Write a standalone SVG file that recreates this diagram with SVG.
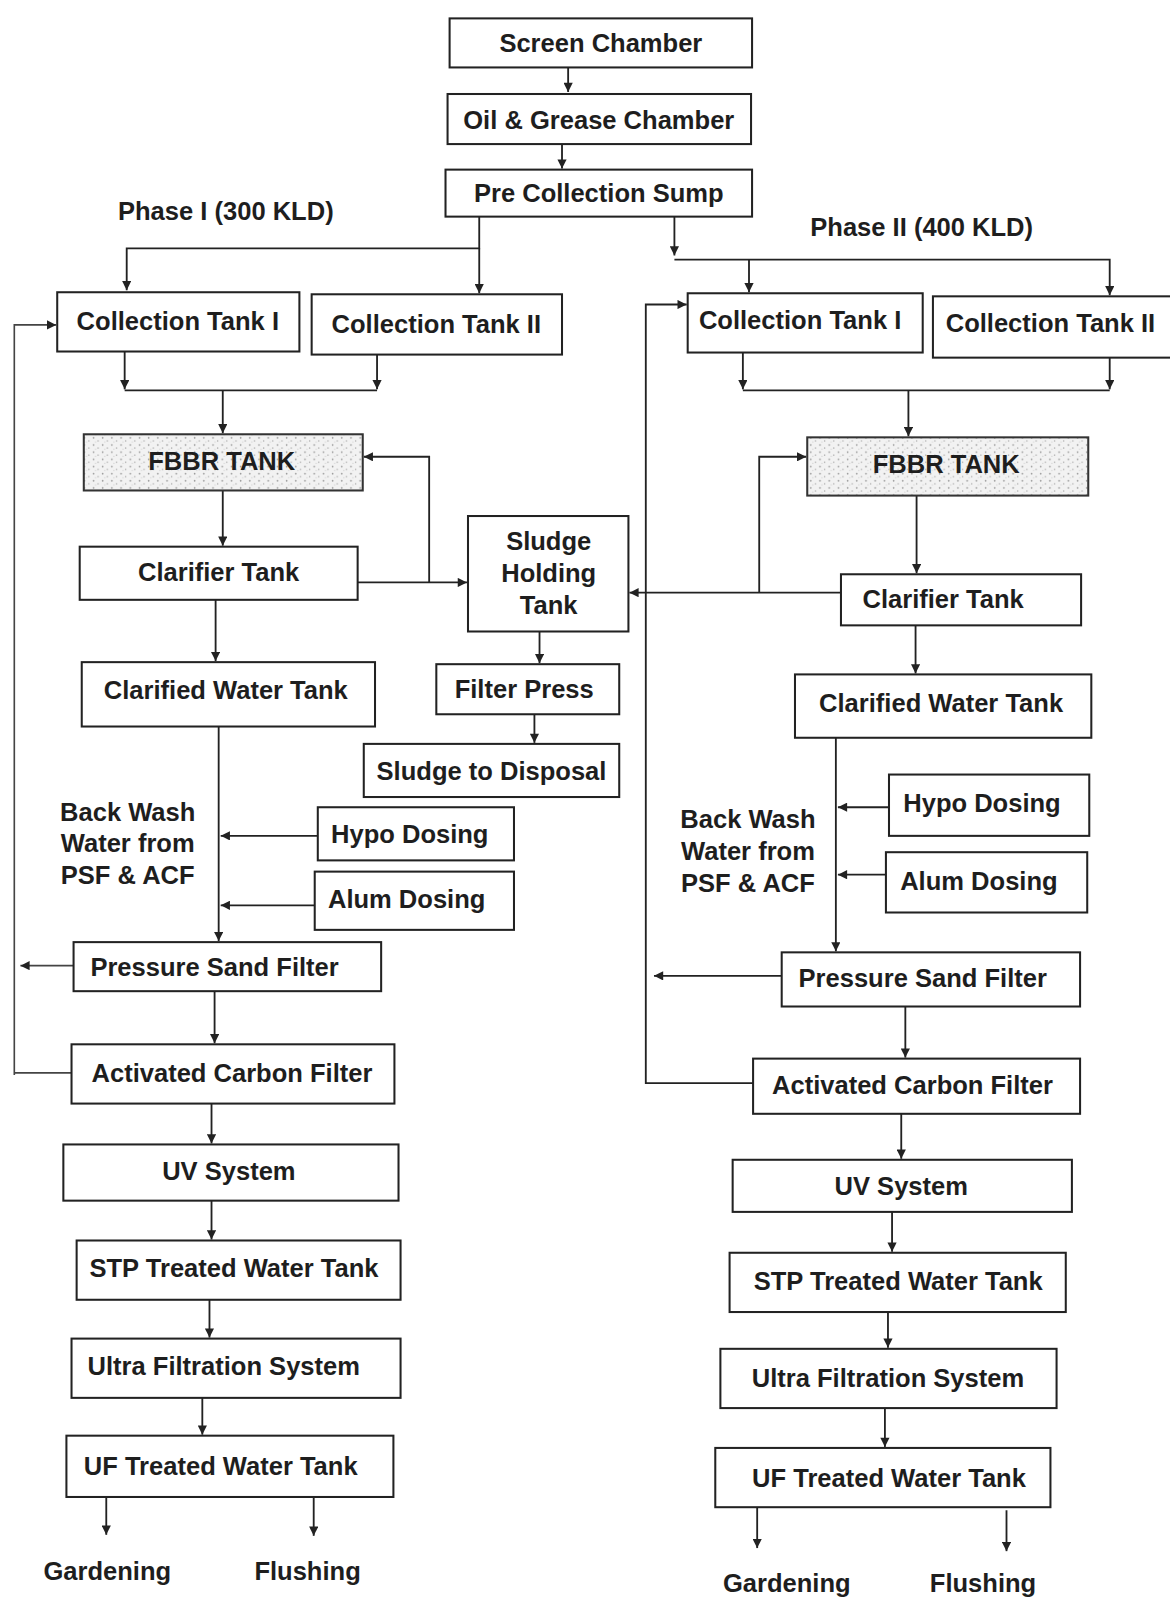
<svg xmlns="http://www.w3.org/2000/svg" width="1170" height="1602" viewBox="0 0 1170 1602">
<defs>
<style>
.box{fill:#fff;stroke:#222;stroke-width:2}
.fbbr{fill:url(#stip);stroke:#333;stroke-width:2}
.t{font-family:"Liberation Sans",Arial,sans-serif;font-weight:bold;font-size:25px;fill:#1e1e1e;text-anchor:middle}
.c{fill:none;stroke:#222;stroke-width:1.8}
.bw{fill:none;stroke:#444;stroke-width:1.6}
.a{marker-end:url(#ah)}
</style>
<marker id="ah" viewBox="0 0 10 10" refX="10" refY="5" markerWidth="10" markerHeight="9" markerUnits="userSpaceOnUse" orient="auto">
<path d="M0,0 L10,5 L0,10 z" fill="#222"/>
</marker>
<pattern id="stip" width="9" height="7" patternUnits="userSpaceOnUse">
<rect width="9" height="7" fill="#f2f2f2"/>
<circle cx="1.5" cy="1.5" r="0.8" fill="#9a9a9a"/>
<circle cx="6" cy="4.5" r="0.7" fill="#b0b0b0"/>
<circle cx="3.5" cy="5.5" r="0.5" fill="#c0c0c0"/>
</pattern>
</defs>
<rect width="1170" height="1602" fill="#fff"/>
<g transform="scale(1.02183)">
<g id="connectors">
<path class="c a" d="M556,66 V90"/>
<path class="c a" d="M550,141 V165"/>
<path class="c a" d="M469,212 V243 H124 V284"/>
<path class="c a" d="M469,243 V287"/>
<path class="c a" d="M122,344 V381"/>
<path class="c a" d="M369,347 V381"/>
<path class="c" d="M122,382 H369"/>
<path class="c a" d="M218,382 V424"/>
<path class="c a" d="M218,480 V534"/>
<path class="c a" d="M211,587 V647"/>
<path class="c a" d="M214,711 V921"/>
<path class="c a" d="M311,818 H216"/>
<path class="c a" d="M308,886 H216"/>
<path class="c a" d="M210,970 V1021"/>
<path class="c a" d="M207,1080 V1119"/>
<path class="c a" d="M207,1175 V1213"/>
<path class="c a" d="M205,1272 V1309"/>
<path class="c a" d="M198,1368 V1404"/>
<path class="c a" d="M104,1465 V1502"/>
<path class="c a" d="M307,1465 V1503"/>
<path class="bw a" d="M72,945 H20"/>
<path class="bw" d="M70,1050 H14"/>
<path class="bw a" d="M14,1052 V318 H55"/>
<path class="c a" d="M350,570 H457"/>
<path class="c a" d="M420,570 V447 H356"/>
<path class="c a" d="M823,580 H616"/>
<path class="c a" d="M743,580 V447 H789"/>
<path class="c a" d="M528,618 V649"/>
<path class="c a" d="M523,699 V727"/>
<path class="c a" d="M660,212 V250"/>
<path class="c a" d="M660,254 H1086 V289"/>
<path class="c a" d="M733,254 V286"/>
<path class="c a" d="M727,345 V381"/>
<path class="c a" d="M1086,350 V381"/>
<path class="c" d="M727,382 H1086"/>
<path class="c a" d="M889,382 V427"/>
<path class="c a" d="M897,485 V561"/>
<path class="c a" d="M896,612 V659"/>
<path class="c a" d="M818,722 V931"/>
<path class="c a" d="M870,790 H820"/>
<path class="c a" d="M867,856 H820"/>
<path class="c a" d="M886,985 V1035"/>
<path class="c a" d="M882,1090 V1134"/>
<path class="c a" d="M873,1186 V1225"/>
<path class="c a" d="M869,1284 V1319"/>
<path class="c a" d="M866,1378 V1416"/>
<path class="c a" d="M741,1475 V1515"/>
<path class="c a" d="M985,1478 V1518"/>
<path class="c a" d="M765,955 H640"/>
<path class="c a" d="M737,1060 H632 V298 H672"/>
</g>
<g id="screen"><rect class="box" x="440" y="18" width="296" height="48"/><text class="t" x="588" y="51">Screen Chamber</text></g>
<g id="oil"><rect class="box" x="438" y="92" width="297" height="49"/><text class="t" x="586" y="126">Oil &amp; Grease Chamber</text></g>
<g id="pre"><rect class="box" x="436" y="166" width="300" height="46"/><text class="t" x="586" y="198">Pre Collection Sump</text></g>
<g id="phase1"><text class="t" x="221" y="215">Phase I (300 KLD)</text></g>
<g id="phase2"><text class="t" x="902" y="231">Phase II (400 KLD)</text></g>
<g id="ct1L"><rect class="box" x="56" y="286" width="237" height="58"/><text class="t" x="174" y="323">Collection Tank I</text></g>
<g id="ct2L"><rect class="box" x="305" y="288" width="245" height="59"/><text class="t" x="427" y="326">Collection Tank II</text></g>
<g id="fbbrL"><rect class="fbbr" x="82" y="425" width="273" height="55"/><text class="t" x="217" y="460">FBBR TANK</text></g>
<g id="clarL"><rect class="box" x="78" y="535" width="272" height="52"/><text class="t" x="214" y="569">Clarifier Tank</text></g>
<g id="cwtL"><rect class="box" x="80" y="648" width="287" height="63"/><text class="t" x="221" y="684">Clarified Water Tank</text></g>
<g id="hypoL"><rect class="box" x="311" y="790" width="192" height="52"/><text class="t" x="401" y="825">Hypo Dosing</text></g>
<g id="alumL"><rect class="box" x="308" y="853" width="195" height="57"/><text class="t" x="398" y="889">Alum Dosing</text></g>
<g id="bwL"><text class="t" x="125" y="803">Back Wash</text><text class="t" x="125" y="834">Water from</text><text class="t" x="125" y="865">PSF &amp; ACF</text></g>
<g id="psfL"><rect class="box" x="72" y="922" width="301" height="48"/><text class="t" x="210" y="955">Pressure Sand Filter</text></g>
<g id="acfL"><rect class="box" x="70" y="1022" width="316" height="58"/><text class="t" x="227" y="1059">Activated Carbon Filter</text></g>
<g id="uvL"><rect class="box" x="62" y="1120" width="328" height="55"/><text class="t" x="224" y="1155">UV System</text></g>
<g id="stpL"><rect class="box" x="75" y="1214" width="317" height="58"/><text class="t" x="229" y="1250">STP Treated Water Tank</text></g>
<g id="ufsL"><rect class="box" x="70" y="1310" width="322" height="58"/><text class="t" x="219" y="1346">Ultra Filtration System</text></g>
<g id="uftL"><rect class="box" x="65" y="1405" width="320" height="60"/><text class="t" x="216" y="1443">UF Treated Water Tank</text></g>
<g id="gardL"><text class="t" x="105" y="1546">Gardening</text></g>
<g id="flushL"><text class="t" x="301" y="1546">Flushing</text></g>
<g id="sludge"><rect class="box" x="458" y="505" width="157" height="113"/><text class="t" x="537" y="538">Sludge</text><text class="t" x="537" y="570">Holding</text><text class="t" x="537" y="601">Tank</text></g>
<g id="fp"><rect class="box" x="427" y="650" width="179" height="49"/><text class="t" x="513" y="683">Filter Press</text></g>
<g id="disp"><rect class="box" x="356" y="728" width="250" height="52"/><text class="t" x="481" y="763">Sludge to Disposal</text></g>
<g id="ct1R"><rect class="box" x="673" y="287" width="230" height="58"/><text class="t" x="783" y="322">Collection Tank I</text></g>
<g id="ct2R"><rect class="box" x="913" y="290" width="240" height="60"/><text class="t" x="1028" y="325">Collection Tank II</text></g>
<g id="fbbrR"><rect class="fbbr" x="790" y="428" width="275" height="57"/><text class="t" x="926" y="463">FBBR TANK</text></g>
<g id="clarR"><rect class="box" x="823" y="562" width="235" height="50"/><text class="t" x="923" y="595">Clarifier Tank</text></g>
<g id="cwtR"><rect class="box" x="778" y="660" width="290" height="62"/><text class="t" x="921" y="697">Clarified Water Tank</text></g>
<g id="hypoR"><rect class="box" x="870" y="758" width="196" height="60"/><text class="t" x="961" y="795">Hypo Dosing</text></g>
<g id="alumR"><rect class="box" x="867" y="834" width="197" height="59"/><text class="t" x="958" y="871">Alum Dosing</text></g>
<g id="bwR"><text class="t" x="732" y="810">Back Wash</text><text class="t" x="732" y="842">Water from</text><text class="t" x="732" y="873">PSF &amp; ACF</text></g>
<g id="psfR"><rect class="box" x="765" y="932" width="292" height="53"/><text class="t" x="903" y="966">Pressure Sand Filter</text></g>
<g id="acfR"><rect class="box" x="737" y="1036" width="320" height="54"/><text class="t" x="893" y="1071">Activated Carbon Filter</text></g>
<g id="uvR"><rect class="box" x="717" y="1135" width="332" height="51"/><text class="t" x="882" y="1169">UV System</text></g>
<g id="stpR"><rect class="box" x="714" y="1226" width="329" height="58"/><text class="t" x="879" y="1262">STP Treated Water Tank</text></g>
<g id="ufsR"><rect class="box" x="705" y="1320" width="329" height="58"/><text class="t" x="869" y="1357">Ultra Filtration System</text></g>
<g id="uftR"><rect class="box" x="700" y="1417" width="328" height="58"/><text class="t" x="870" y="1455">UF Treated Water Tank</text></g>
<g id="gardR"><text class="t" x="770" y="1558">Gardening</text></g>
<g id="flushR"><text class="t" x="962" y="1558">Flushing</text></g>
</g>
</svg>
